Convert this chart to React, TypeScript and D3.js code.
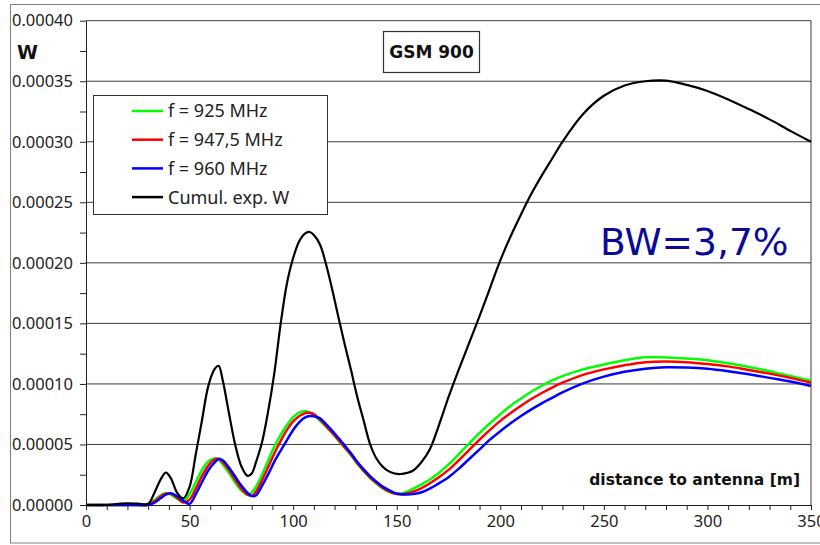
import React, { useEffect, useRef } from 'react'
import { select, scaleLinear, line, curveCatmullRom, axisLeft, axisBottom, range } from 'd3'

// distance to antenna [m]
const distance = [
  0, 10, 17, 25, 30, 33, 36, 38.5, 41, 44, 47, 50, 53, 56, 59, 62, 64, 66, 69, 72,
  75, 78, 80, 82, 85, 88, 91, 94, 97, 100, 103, 106, 108, 110, 113, 116, 119, 122, 125, 128,
  131, 134, 137, 140, 143, 146, 149, 152, 155, 158, 162, 166, 170, 175, 180, 185, 190, 195, 200, 205,
  210, 215, 220, 225, 230, 240, 250, 260, 270, 280, 290, 300, 310, 320, 330, 340, 350,
]

// power in units of 1e-5 W
const f925 = [
  0, 0, 0, 0, 0.05, 0.4, 0.8, 0.97, 0.85, 0.5, 0.3, 0.9, 1.9, 2.9, 3.6, 3.85, 3.75, 3.35, 2.65, 1.85,
  1.2, 0.85, 1.05, 1.5, 2.5, 3.7, 4.85, 5.8, 6.6, 7.25, 7.65, 7.75, 7.65, 7.45, 6.95, 6.45, 5.9, 5.3, 4.7, 4.1,
  3.4, 2.8, 2.25, 1.8, 1.4, 1.1, 0.95, 0.95, 1.1, 1.35, 1.7, 2.1, 2.6, 3.35, 4.2, 5.1, 5.95, 6.75, 7.5, 8.2,
  8.8, 9.35, 9.85, 10.3, 10.65, 11.2, 11.6, 11.95, 12.2, 12.18, 12.1, 11.95, 11.7, 11.4, 11.05, 10.65, 10.27,
]
const f9475 = [
  0, 0, 0, 0, 0.02, 0.3, 0.7, 0.93, 0.92, 0.6, 0.2, 0.45, 1.35, 2.4, 3.25, 3.75, 3.82, 3.55, 2.9, 2.1,
  1.35, 0.85, 0.75, 1.1, 2.05, 3.15, 4.3, 5.3, 6.2, 6.9, 7.35, 7.6, 7.62, 7.5, 7.05, 6.5, 5.95, 5.35, 4.75, 4.15,
  3.45, 2.85, 2.3, 1.85, 1.45, 1.15, 0.95, 0.88, 0.95, 1.1, 1.4, 1.8, 2.25, 2.9, 3.7, 4.55, 5.4, 6.2, 6.95, 7.6,
  8.2, 8.75, 9.25, 9.7, 10.1, 10.75, 11.2, 11.55, 11.8, 11.85, 11.8, 11.65, 11.45, 11.15, 10.85, 10.5, 10.1,
]
const f960 = [
  0, 0, 0, 0, 0, 0.2, 0.55, 0.85, 0.97, 0.72, 0.35, 0.1, 0.9, 1.9, 2.85, 3.5, 3.8, 3.7, 3.1, 2.35,
  1.6, 1.0, 0.75, 0.78, 1.6, 2.55, 3.6, 4.5, 5.35, 6.2, 6.85, 7.25, 7.35, 7.33, 7.15, 6.65, 6.1, 5.5, 4.9, 4.25,
  3.55, 2.95, 2.4, 1.95, 1.55, 1.25, 1.0, 0.88, 0.86, 0.9, 1.05, 1.35, 1.75, 2.3, 3.0, 3.8, 4.6, 5.4, 6.1, 6.75,
  7.35, 7.9, 8.4, 8.85, 9.3, 10.05, 10.6, 11.0, 11.25, 11.38, 11.35, 11.25, 11.05, 10.8, 10.5, 10.2, 9.83,
]
const cumulative = [
  0, 0, 0.12, 0.12, 0.1, 1.0, 2.1, 2.67, 2.2, 1.0, 0.55, 1.5, 4.2, 7.0, 9.8, 11.2, 11.5, 10.3, 7.6, 5.0,
  3.2, 2.4, 2.6, 3.5, 5.2, 7.8, 11.0, 15.0, 18.3, 20.4, 21.8, 22.45, 22.55, 22.3, 21.5, 19.8, 17.7, 15.4, 13.2, 11.1,
  8.9, 7.0, 5.1, 3.9, 3.2, 2.8, 2.6, 2.56, 2.65, 2.85, 3.55, 4.6, 6.4, 8.9, 11.2, 13.4, 15.6, 17.9, 20.2, 22.2,
  24.0, 25.7, 27.2, 28.6, 30.0, 32.3, 33.8, 34.65, 35.0, 35.05, 34.7, 34.2, 33.5, 32.7, 31.85, 30.9, 30.0,
]

const seriesNames = ['f = 925 MHz', 'f = 947,5 MHz', 'f = 960 MHz', 'Cumul. exp. W']
const seriesColors = ['#00ff00', '#ff0000', '#0000ff', '#000000']
const seriesValues = [f925, f9475, f960, cumulative]

const xMajor = [0, 50, 100, 150, 200, 250, 300, 350]

const regular = "'Noto Sans', sans-serif"
const bold = "'DejaVu Sans', sans-serif"

function App() {
  const ref = useRef<SVGSVGElement>(null)

  useEffect(() => {
    const svg = select(ref.current)
    svg.selectAll('*').remove()

    const left = 86, top = 20.7, right = 811, bottom = 505

    const x = scaleLinear().domain([0, 350]).range([left, right])
    const y = scaleLinear().domain([0, 40]).range([bottom, top]).clamp(true)

    // outer chart frame
    svg.append('rect')
      .attr('x', 10.5).attr('y', 4.5)
      .attr('width', 830).attr('height', 538.5)
      .attr('fill', '#fff').attr('stroke', '#808080')

    // horizontal gridlines
    svg.append('g')
      .selectAll('line')
      .data(range(5, 41, 5))
      .join('line')
      .attr('x1', left).attr('x2', right)
      .attr('y1', d => y(d)).attr('y2', d => y(d))
      .attr('stroke', '#3c3c3c').attr('stroke-width', 1)

    // right border of plot area
    svg.append('line')
      .attr('x1', right).attr('x2', right)
      .attr('y1', top).attr('y2', bottom)
      .attr('stroke', '#3c3c3c')

    // y axis
    const yAxis = svg.append('g')
      .attr('transform', `translate(${left},0)`)
      .call(axisLeft(y)
        .tickValues(range(0, 40.1, 2.5))
        .tickSize(6).tickSizeOuter(0).tickPadding(7)
        .tickFormat((d: any) => (d % 5 === 0 ? (d * 1e-5).toFixed(5) : '')))
    yAxis.attr('font-family', regular).attr('font-size', 16.5).style('color', '#222')

    // x axis
    const xAxis = svg.append('g')
      .attr('transform', `translate(0,${bottom})`)
      .call(axisBottom(x)
        .tickValues(range(0, 351, 10))
        .tickSize(5).tickSizeOuter(0).tickPadding(5)
        .tickFormat((d: any) => (xMajor.includes(d) ? String(d) : '')))
    xAxis.attr('font-family', regular).attr('font-size', 16.5).style('color', '#222')

    // curves
    seriesValues.forEach((vals, i) => {
      const pts = distance.map((d, j) => [d, vals[j]] as [number, number])
      svg.append('path')
        .datum(pts)
        .attr('fill', 'none')
        .attr('stroke', seriesColors[i])
        .attr('stroke-width', i === 3 ? 2.2 : 2.5)
        .attr('stroke-linejoin', 'round')
        .attr('d', line<[number, number]>()
          .x(d => x(d[0]))
          .y(d => y(d[1]))
          .curve(curveCatmullRom.alpha(0.5)))
    })

    // legend
    const lg = svg.append('g')
    lg.append('rect')
      .attr('x', 93.5).attr('y', 95.5).attr('width', 234).attr('height', 119)
      .attr('fill', '#fff').attr('stroke', '#333')
    seriesNames.forEach((name, i) => {
      const cy = 111 + i * 28.7
      lg.append('line')
        .attr('x1', 132).attr('x2', 163)
        .attr('y1', cy).attr('y2', cy)
        .attr('stroke', seriesColors[i]).attr('stroke-width', 2.5)
      lg.append('text')
        .attr('x', 168).attr('y', cy)
        .attr('dy', '0.36em')
        .attr('font-family', regular).attr('font-size', 18)
        .attr('fill', '#222')
        .text(name)
    })

    // title box
    svg.append('rect')
      .attr('x', 383.5).attr('y', 31.5).attr('width', 96).attr('height', 41)
      .attr('fill', '#fff').attr('stroke', '#333').attr('stroke-width', 1.2)
    svg.append('text')
      .attr('x', 431.5).attr('y', 58.3)
      .attr('text-anchor', 'middle')
      .attr('font-family', bold).attr('font-weight', 'bold').attr('font-size', 17)
      .attr('fill', '#111')
      .text('GSM 900')

    // unit label
    svg.append('text')
      .attr('x', 17).attr('y', 58.5)
      .attr('font-family', bold).attr('font-weight', 'bold').attr('font-size', 19)
      .attr('fill', '#111')
      .text('W')

    // x axis title inside plot
    svg.append('text')
      .attr('x', 800).attr('y', 485)
      .attr('text-anchor', 'end')
      .attr('font-family', bold).attr('font-weight', 'bold').attr('font-size', 15.5)
      .attr('fill', '#111')
      .text('distance to antenna [m]')

    // bandwidth note
    svg.append('text')
      .attr('x', 600).attr('y', 255)
      .attr('font-family', "'DejaVu Sans', sans-serif").attr('font-size', 37.6)
      .attr('fill', '#0a0a96')
      .text('BW=3,7%')
  }, [])

  return (
    <svg ref={ref} width={820} height={545}
      style={{ position: 'absolute', left: 0, top: 0, background: '#fff' }} />
  )
}

export default App
